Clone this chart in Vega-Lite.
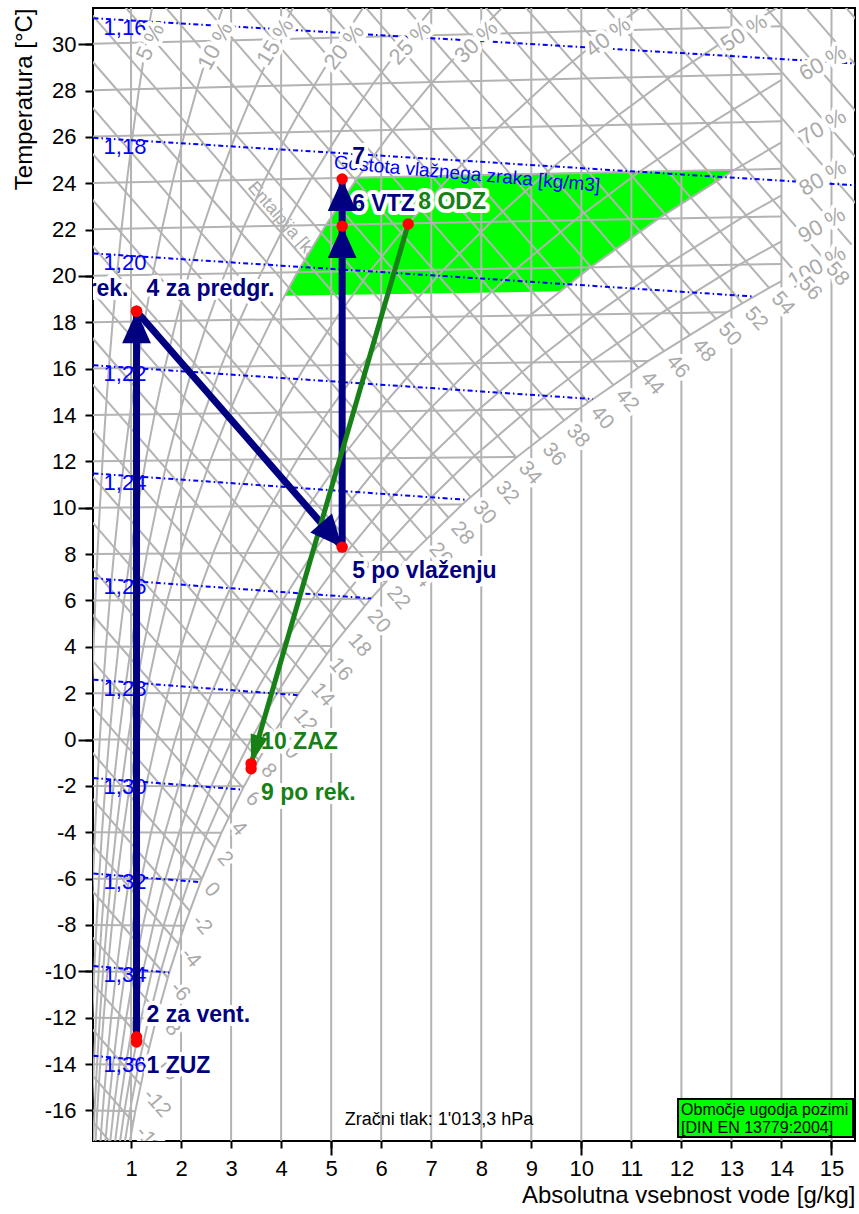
{
"$schema": "https://vega.github.io/schema/vega-lite/v6.json",
"width": 762, "height": 1133,
"autosize": {"type": "none"},
"padding": {"left": 93, "top": 8, "right": 4, "bottom": 73},
"config": {"view": {"stroke": "#000000", "strokeWidth": 2}, "font": "Liberation Sans"},
"datasets": {
"iso": [
{"x":0,"y":-16,"x2":1.086,"y2":-16.032},{"x":0,"y":-14,"x2":1.281,"y2":-14.033},{"x":0,"y":-12,"x2":1.506,"y2":-12.033},
{"x":0,"y":-10,"x2":1.767,"y2":-10.033},{"x":0,"y":-8,"x2":2.067,"y2":-8.031},{"x":0,"y":-6,"x2":2.412,"y2":-6.027},
{"x":0,"y":-4,"x2":2.807,"y2":-4.021},{"x":0,"y":-2,"x2":3.259,"y2":-2.012},{"x":0,"y":0,"x2":3.775,"y2":0},
{"x":0,"y":2,"x2":4.362,"y2":2.016},{"x":0,"y":4,"x2":5.03,"y2":4.037},{"x":0,"y":6,"x2":5.789,"y2":6.064},
{"x":0,"y":8,"x2":6.647,"y2":8.098},{"x":0,"y":10,"x2":7.618,"y2":10.141},{"x":0,"y":12,"x2":8.714,"y2":12.193},
{"x":0,"y":14,"x2":9.949,"y2":14.258},{"x":0,"y":16,"x2":11.34,"y2":16.335},{"x":0,"y":18,"x2":12.902,"y2":18.429},
{"x":0,"y":20,"x2":14,"y2":20.518},{"x":0,"y":22,"x2":14,"y2":22.569},{"x":0,"y":24,"x2":14,"y2":24.621},
{"x":0,"y":26,"x2":14,"y2":26.673},{"x":0,"y":28,"x2":14,"y2":28.725},{"x":0,"y":30,"x2":14,"y2":30.777}
],
"hl": [
{"h":-16,"x":0,"y":-15.905,"x2":0.93,"y2":-18.22},
{"h":-14,"lab":"-14","x":0,"y":-13.917,"x2":1.045,"y2":-16.516},
{"h":-12,"lab":"-12","x":0,"y":-11.928,"x2":1.196,"y2":-14.902},
{"h":-10,"lab":"-10","x":0,"y":-9.94,"x2":1.361,"y2":-13.323},
{"h":-8,"lab":"-8","x":0,"y":-7.952,"x2":1.539,"y2":-11.779},
{"h":-6,"lab":"-6","x":0,"y":-5.964,"x2":1.735,"y2":-10.277},
{"h":-4,"lab":"-4","x":0,"y":-3.976,"x2":1.949,"y2":-8.82},
{"h":-2,"lab":"-2","x":0,"y":-1.988,"x2":2.176,"y2":-7.398},
{"h":0,"lab":"0","x":0,"y":0,"x2":2.416,"y2":-6.006},
{"h":2,"lab":"2","x":0,"y":1.988,"x2":2.679,"y2":-4.672},
{"h":4,"lab":"4","x":0,"y":3.976,"x2":2.954,"y2":-3.367},
{"h":6,"lab":"6","x":0,"y":5.964,"x2":3.241,"y2":-2.092},
{"h":8,"lab":"8","x":0,"y":7.952,"x2":3.551,"y2":-0.875},
{"h":10,"lab":"10","x":0,"y":9.94,"x2":3.869,"y2":0.322},
{"h":12,"lab":"12","x":0,"y":11.928,"x2":4.205,"y2":1.475},
{"h":14,"lab":"14","x":0,"y":13.917,"x2":4.554,"y2":2.595},
{"h":16,"lab":"16","x":0,"y":15.905,"x2":4.915,"y2":3.687},
{"h":18,"lab":"18","x":0,"y":17.893,"x2":5.292,"y2":4.736},
{"h":20,"lab":"20","x":0,"y":19.881,"x2":5.678,"y2":5.766},
{"h":22,"lab":"22","x":0,"y":21.869,"x2":6.07,"y2":6.778},
{"h":24,"lab":"24","x":0,"y":23.857,"x2":6.489,"y2":7.724},
{"h":26,"lab":"26","x":0,"y":25.845,"x2":6.913,"y2":8.658},
{"h":28,"lab":"28","x":0,"y":27.833,"x2":7.346,"y2":9.569},
{"h":30,"lab":"30","x":0,"y":29.821,"x2":7.788,"y2":10.459},
{"h":32,"lab":"32","x":0,"y":31.809,"x2":8.244,"y2":11.313},
{"h":34,"lab":"34","x":0,"y":33.797,"x2":8.7,"y2":12.167},
{"h":36,"lab":"36","x":0,"y":35.785,"x2":9.178,"y2":12.968},
{"h":38,"lab":"38","x":0,"y":37.773,"x2":9.656,"y2":13.767},
{"h":40,"lab":"40","x":0,"y":39.761,"x2":10.143,"y2":14.546},
{"h":42,"lab":"42","x":0,"y":41.75,"x2":10.642,"y2":15.293},
{"h":44,"lab":"44","x":0,"y":43.738,"x2":11.141,"y2":16.039},
{"h":46,"lab":"46","x":0,"y":45.726,"x2":11.653,"y2":16.756},
{"h":48,"lab":"48","x":0,"y":47.714,"x2":12.172,"y2":17.452},
{"h":50,"lab":"50","x":0,"y":49.702,"x2":12.692,"y2":18.148},
{"h":52,"lab":"52","x":0,"y":51.69,"x2":13.22,"y2":18.823},
{"h":54,"lab":"54","x":0,"y":53.678,"x2":13.754,"y2":19.484},
{"h":56,"lab":"56","x":0,"y":55.666,"x2":14.298,"y2":20.121},
{"h":58,"lab":"58","x":0,"y":57.654,"x2":14.845,"y2":20.747},
{"h":60,"x":0,"y":59.642,"x2":15.402,"y2":21.352},
{"h":62,"x":0,"y":61.63,"x2":15.959,"y2":21.956},
{"h":64,"x":0,"y":63.618,"x2":16.515,"y2":22.56},
{"h":66,"x":0,"y":65.606,"x2":17.1,"y2":23.094},
{"h":68,"x":0,"y":67.594,"x2":17.6,"y2":23.839},
{"h":70,"x":0,"y":69.583,"x2":18.1,"y2":24.584}
],
"rh": [
{"phi":5,"x":0.188,"y":0},{"phi":5,"x":0.217,"y":2.0},{"phi":5,"x":0.25,"y":4.0},{"phi":5,"x":0.287,"y":6.002},{"phi":5,"x":0.329,"y":8.005},{"phi":5,"x":0.377,"y":10.007},{"phi":5,"x":0.43,"y":12.01},{"phi":5,"x":0.49,"y":14.013},{"phi":5,"x":0.557,"y":16.016},{"phi":5,"x":0.633,"y":18.021},{"phi":5,"x":0.717,"y":20.027},{"phi":5,"x":0.811,"y":22.033},{"phi":5,"x":0.915,"y":24.041},{"phi":5,"x":1.031,"y":26.05},{"phi":5,"x":1.16,"y":28.06},{"phi":5,"x":1.302,"y":30.072},{"phi":5,"x":1.46,"y":32.086},
{"phi":10,"x":0.206,"y":-8.003},{"phi":10,"x":0.24,"y":-6.003},{"phi":10,"x":0.28,"y":-4.002},{"phi":10,"x":0.324,"y":-2.001},{"phi":10,"x":0.375,"y":0},{"phi":10,"x":0.434,"y":2.002},{"phi":10,"x":0.499,"y":4.004},{"phi":10,"x":0.574,"y":6.006},{"phi":10,"x":0.658,"y":8.01},{"phi":10,"x":0.753,"y":10.014},{"phi":10,"x":0.861,"y":12.019},{"phi":10,"x":0.981,"y":14.025},{"phi":10,"x":1.116,"y":16.033},{"phi":10,"x":1.267,"y":18.042},{"phi":10,"x":1.435,"y":20.053},{"phi":10,"x":1.623,"y":22.066},{"phi":10,"x":1.833,"y":24.081},{"phi":10,"x":2.065,"y":26.099},{"phi":10,"x":2.324,"y":28.12},{"phi":10,"x":2.61,"y":30.145},{"phi":10,"x":2.926,"y":32.173},
{"phi":15,"x":0.225,"y":-12.005},{"phi":15,"x":0.264,"y":-10.005},{"phi":15,"x":0.309,"y":-8.005},{"phi":15,"x":0.361,"y":-6.004},{"phi":15,"x":0.419,"y":-4.003},{"phi":15,"x":0.487,"y":-2.002},{"phi":15,"x":0.563,"y":0},{"phi":15,"x":0.65,"y":2.002},{"phi":15,"x":0.749,"y":4.006},{"phi":15,"x":0.862,"y":6.01},{"phi":15,"x":0.988,"y":8.015},{"phi":15,"x":1.131,"y":10.021},{"phi":15,"x":1.292,"y":12.029},{"phi":15,"x":1.472,"y":14.038},{"phi":15,"x":1.675,"y":16.05},{"phi":15,"x":1.902,"y":18.063},{"phi":15,"x":2.155,"y":20.08},{"phi":15,"x":2.438,"y":22.099},{"phi":15,"x":2.753,"y":24.122},{"phi":15,"x":3.103,"y":26.149},{"phi":15,"x":3.492,"y":28.181},{"phi":15,"x":3.923,"y":30.218},{"phi":15,"x":4.4,"y":32.26},
{"phi":20,"x":0.183,"y":-18.006},{"phi":20,"x":0.217,"y":-16.006},{"phi":20,"x":0.256,"y":-14.007},{"phi":20,"x":0.301,"y":-12.007},{"phi":20,"x":0.353,"y":-10.007},{"phi":20,"x":0.412,"y":-8.006},{"phi":20,"x":0.481,"y":-6.005},{"phi":20,"x":0.559,"y":-4.004},{"phi":20,"x":0.649,"y":-2.002},{"phi":20,"x":0.751,"y":0},{"phi":20,"x":0.868,"y":2.003},{"phi":20,"x":1.0,"y":4.007},{"phi":20,"x":1.149,"y":6.013},{"phi":20,"x":1.318,"y":8.019},{"phi":20,"x":1.509,"y":10.028},{"phi":20,"x":1.724,"y":12.038},{"phi":20,"x":1.965,"y":14.051},{"phi":20,"x":2.235,"y":16.066},{"phi":20,"x":2.538,"y":18.084},{"phi":20,"x":2.877,"y":20.106},{"phi":20,"x":3.255,"y":22.132},{"phi":20,"x":3.676,"y":24.163},{"phi":20,"x":4.144,"y":26.199},{"phi":20,"x":4.665,"y":28.241},{"phi":20,"x":5.242,"y":30.291},{"phi":20,"x":5.881,"y":32.348},
{"phi":25,"x":0.229,"y":-18.008},{"phi":25,"x":0.271,"y":-16.008},{"phi":25,"x":0.32,"y":-14.008},{"phi":25,"x":0.376,"y":-12.008},{"phi":25,"x":0.441,"y":-10.008},{"phi":25,"x":0.515,"y":-8.008},{"phi":25,"x":0.601,"y":-6.007},{"phi":25,"x":0.699,"y":-4.005},{"phi":25,"x":0.812,"y":-2.003},{"phi":25,"x":0.939,"y":0},{"phi":25,"x":1.085,"y":2.004},{"phi":25,"x":1.25,"y":4.009},{"phi":25,"x":1.437,"y":6.016},{"phi":25,"x":1.649,"y":8.024},{"phi":25,"x":1.887,"y":10.035},{"phi":25,"x":2.156,"y":12.048},{"phi":25,"x":2.458,"y":14.064},{"phi":25,"x":2.797,"y":16.083},{"phi":25,"x":3.176,"y":18.106},{"phi":25,"x":3.6,"y":20.133},{"phi":25,"x":4.074,"y":22.166},{"phi":25,"x":4.602,"y":24.204},{"phi":25,"x":5.189,"y":26.249},{"phi":25,"x":5.842,"y":28.302},{"phi":25,"x":6.566,"y":30.364},{"phi":25,"x":7.368,"y":32.436},
{"phi":30,"x":0.275,"y":-18.009},{"phi":30,"x":0.325,"y":-16.01},{"phi":30,"x":0.384,"y":-14.01},{"phi":30,"x":0.451,"y":-12.01},{"phi":30,"x":0.529,"y":-10.01},{"phi":30,"x":0.619,"y":-8.009},{"phi":30,"x":0.722,"y":-6.008},{"phi":30,"x":0.839,"y":-4.006},{"phi":30,"x":0.974,"y":-2.004},{"phi":30,"x":1.128,"y":0},{"phi":30,"x":1.302,"y":2.005},{"phi":30,"x":1.501,"y":4.011},{"phi":30,"x":1.726,"y":6.019},{"phi":30,"x":1.979,"y":8.029},{"phi":30,"x":2.266,"y":10.042},{"phi":30,"x":2.589,"y":12.057},{"phi":30,"x":2.952,"y":14.076},{"phi":30,"x":3.359,"y":16.099},{"phi":30,"x":3.815,"y":18.127},{"phi":30,"x":4.325,"y":20.16},{"phi":30,"x":4.895,"y":22.199},{"phi":30,"x":5.53,"y":24.245},{"phi":30,"x":6.237,"y":26.3},{"phi":30,"x":7.023,"y":28.364},{"phi":30,"x":7.896,"y":30.438},{"phi":30,"x":8.863,"y":32.524},
{"phi":40,"x":0.367,"y":-18.012},{"phi":40,"x":0.434,"y":-16.013},{"phi":40,"x":0.512,"y":-14.013},{"phi":40,"x":0.602,"y":-12.013},{"phi":40,"x":0.706,"y":-10.013},{"phi":40,"x":0.825,"y":-8.012},{"phi":40,"x":0.963,"y":-6.011},{"phi":40,"x":1.12,"y":-4.008},{"phi":40,"x":1.299,"y":-2.005},{"phi":40,"x":1.504,"y":0},{"phi":40,"x":1.738,"y":2.006},{"phi":40,"x":2.002,"y":4.015},{"phi":40,"x":2.303,"y":6.026},{"phi":40,"x":2.642,"y":8.039},{"phi":40,"x":3.025,"y":10.056},{"phi":40,"x":3.457,"y":12.077},{"phi":40,"x":3.942,"y":14.102},{"phi":40,"x":4.487,"y":16.133},{"phi":40,"x":5.097,"y":18.17},{"phi":40,"x":5.781,"y":20.214},{"phi":40,"x":6.544,"y":22.266},{"phi":40,"x":7.396,"y":24.328},{"phi":40,"x":8.344,"y":26.401},{"phi":40,"x":9.4,"y":28.487},{"phi":40,"x":10.572,"y":30.586},{"phi":40,"x":11.873,"y":32.703},
{"phi":50,"x":0.459,"y":-18.015},{"phi":50,"x":0.543,"y":-16.016},{"phi":50,"x":0.64,"y":-14.017},{"phi":50,"x":0.752,"y":-12.017},{"phi":50,"x":0.882,"y":-10.016},{"phi":50,"x":1.032,"y":-8.015},{"phi":50,"x":1.204,"y":-6.013},{"phi":50,"x":1.4,"y":-4.01},{"phi":50,"x":1.625,"y":-2.006},{"phi":50,"x":1.882,"y":0},{"phi":50,"x":2.174,"y":2.008},{"phi":50,"x":2.505,"y":4.019},{"phi":50,"x":2.881,"y":6.032},{"phi":50,"x":3.306,"y":8.049},{"phi":50,"x":3.786,"y":10.07},{"phi":50,"x":4.327,"y":12.096},{"phi":50,"x":4.935,"y":14.128},{"phi":50,"x":5.619,"y":16.166},{"phi":50,"x":6.385,"y":18.212},{"phi":50,"x":7.243,"y":20.268},{"phi":50,"x":8.202,"y":22.334},{"phi":50,"x":9.272,"y":24.411},{"phi":50,"x":10.465,"y":26.503},{"phi":50,"x":11.794,"y":28.611},{"phi":50,"x":13.272,"y":30.736},{"phi":50,"x":14.913,"y":32.882},
{"phi":60,"x":0.551,"y":-18.018},{"phi":60,"x":0.651,"y":-16.019},{"phi":60,"x":0.768,"y":-14.02},{"phi":60,"x":0.903,"y":-12.02},{"phi":60,"x":1.059,"y":-10.02},{"phi":60,"x":1.239,"y":-8.018},{"phi":60,"x":1.445,"y":-6.016},{"phi":60,"x":1.681,"y":-4.012},{"phi":60,"x":1.951,"y":-2.007},{"phi":60,"x":2.259,"y":0},{"phi":60,"x":2.61,"y":2.01},{"phi":60,"x":3.008,"y":4.022},{"phi":60,"x":3.461,"y":6.038},{"phi":60,"x":3.971,"y":8.059},{"phi":60,"x":4.549,"y":10.084},{"phi":60,"x":5.199,"y":12.115},{"phi":60,"x":5.932,"y":14.154},{"phi":60,"x":6.754,"y":16.2},{"phi":60,"x":7.677,"y":18.256},{"phi":60,"x":8.712,"y":20.322},{"phi":60,"x":9.868,"y":22.401},{"phi":60,"x":11.16,"y":24.495},{"phi":60,"x":12.601,"y":26.606},{"phi":60,"x":14,"y":28.46},
{"phi":70,"x":0.643,"y":-18.021},{"phi":70,"x":0.76,"y":-16.022},{"phi":70,"x":0.896,"y":-14.023},{"phi":70,"x":1.054,"y":-12.023},{"phi":70,"x":1.236,"y":-10.023},{"phi":70,"x":1.445,"y":-8.021},{"phi":70,"x":1.686,"y":-6.019},{"phi":70,"x":1.962,"y":-4.015},{"phi":70,"x":2.278,"y":-2.008},{"phi":70,"x":2.637,"y":0},{"phi":70,"x":3.047,"y":2.011},{"phi":70,"x":3.513,"y":4.026},{"phi":70,"x":4.041,"y":6.045},{"phi":70,"x":4.638,"y":8.069},{"phi":70,"x":5.313,"y":10.098},{"phi":70,"x":6.074,"y":12.135},{"phi":70,"x":6.931,"y":14.179},{"phi":70,"x":7.894,"y":16.234},{"phi":70,"x":8.976,"y":18.299},{"phi":70,"x":10.187,"y":20.377},{"phi":70,"x":11.543,"y":22.47},{"phi":70,"x":13.059,"y":24.58},{"phi":70,"x":14,"y":25.762},
{"phi":80,"x":0.735,"y":-18.024},{"phi":80,"x":0.868,"y":-16.026},{"phi":80,"x":1.024,"y":-14.026},{"phi":80,"x":1.204,"y":-12.027},{"phi":80,"x":1.413,"y":-10.026},{"phi":80,"x":1.652,"y":-8.024},{"phi":80,"x":1.928,"y":-6.021},{"phi":80,"x":2.244,"y":-4.017},{"phi":80,"x":2.604,"y":-2.01},{"phi":80,"x":3.016,"y":0},{"phi":80,"x":3.485,"y":2.013},{"phi":80,"x":4.018,"y":4.03},{"phi":80,"x":4.623,"y":6.051},{"phi":80,"x":5.306,"y":8.078},{"phi":80,"x":6.079,"y":10.112},{"phi":80,"x":6.952,"y":12.154},{"phi":80,"x":7.934,"y":14.205},{"phi":80,"x":9.039,"y":16.267},{"phi":80,"x":10.279,"y":18.342},{"phi":80,"x":11.67,"y":20.432},{"phi":80,"x":13.227,"y":22.538},{"phi":80,"x":14,"y":23.479},
{"phi":90,"x":0.826,"y":-18.028},{"phi":90,"x":0.977,"y":-16.029},{"phi":90,"x":1.152,"y":-14.03},{"phi":90,"x":1.355,"y":-12.03},{"phi":90,"x":1.59,"y":-10.029},{"phi":90,"x":1.86,"y":-8.028},{"phi":90,"x":2.17,"y":-6.024},{"phi":90,"x":2.525,"y":-4.019},{"phi":90,"x":2.931,"y":-2.011},{"phi":90,"x":3.395,"y":0},{"phi":90,"x":3.923,"y":2.015},{"phi":90,"x":4.524,"y":4.033},{"phi":90,"x":5.205,"y":6.058},{"phi":90,"x":5.976,"y":8.088},{"phi":90,"x":6.848,"y":10.127},{"phi":90,"x":7.832,"y":12.174},{"phi":90,"x":8.94,"y":14.231},{"phi":90,"x":10.187,"y":16.301},{"phi":90,"x":11.588,"y":18.386},{"phi":90,"x":13.159,"y":20.487},{"phi":90,"x":14,"y":21.497},
{"phi":100,"x":0.918,"y":-18.031},{"phi":100,"x":1.086,"y":-16.032},{"phi":100,"x":1.281,"y":-14.033},{"phi":100,"x":1.506,"y":-12.033},{"phi":100,"x":1.767,"y":-10.033},{"phi":100,"x":2.067,"y":-8.031},{"phi":100,"x":2.412,"y":-6.027},{"phi":100,"x":2.807,"y":-4.021},{"phi":100,"x":3.259,"y":-2.012},{"phi":100,"x":3.775,"y":0},{"phi":100,"x":4.362,"y":2.016},{"phi":100,"x":5.03,"y":4.037},{"phi":100,"x":5.789,"y":6.064},{"phi":100,"x":6.647,"y":8.098},{"phi":100,"x":7.618,"y":10.141},{"phi":100,"x":8.714,"y":12.193},{"phi":100,"x":9.949,"y":14.258},{"phi":100,"x":11.34,"y":16.335},{"phi":100,"x":12.902,"y":18.429},{"phi":100,"x":13.754,"y":19.483},{"phi":100,"x":14,"y":19.772}
],
"rho": [
{"rho":"1,16","x":0,"y":31.149},{"rho":"1,16","x":4,"y":30.639},{"rho":"1,16","x":8,"y":30.131},{"rho":"1,16","x":12,"y":29.614},{"rho":"1,16","x":15.5,"y":29.165},
{"rho":"1,18","x":0,"y":25.992},{"rho":"1,18","x":4,"y":25.456},{"rho":"1,18","x":8,"y":24.923},{"rho":"1,18","x":12,"y":24.379},{"rho":"1,18","x":15.5,"y":23.909},
{"rho":"1,20","x":0,"y":21.006},{"rho":"1,20","x":4,"y":20.445},{"rho":"1,20","x":8,"y":19.889},{"rho":"1,20","x":12,"y":19.32},{"rho":"1,20","x":13.45,"y":19.11},
{"rho":"1,22","x":0,"y":16.183},{"rho":"1,22","x":4,"y":15.599},{"rho":"1,22","x":8,"y":15.017},{"rho":"1,22","x":10.23,"y":14.69},
{"rho":"1,24","x":0,"y":11.517},{"rho":"1,24","x":4,"y":10.909},{"rho":"1,24","x":7.72,"y":10.34},
{"rho":"1,26","x":0,"y":6.998},{"rho":"1,26","x":4,"y":6.368},{"rho":"1,26","x":5.8,"y":6.09},
{"rho":"1,28","x":0,"y":2.621},{"rho":"1,28","x":4,"y":1.969},{"rho":"1,28","x":4.33,"y":1.91},
{"rho":"1,30","x":0,"y":-1.622},{"rho":"1,30","x":3.23,"y":-2.16},
{"rho":"1,32","x":0,"y":-5.736},{"rho":"1,32","x":2.39,"y":-6.15},
{"rho":"1,34","x":0,"y":-9.727},{"rho":"1,34","x":1.765,"y":-10.05},
{"rho":"1,36","x":0,"y":-13.601},{"rho":"1,36","x":1.3,"y":-13.84}
],
"rhlab": [
{"phi":5,"lab":"5 %","x":1.386,"y":30.094},{"phi":10,"lab":"10 %","x":2.684,"y":29.922},{"phi":15,"lab":"15 %","x":3.883,"y":30.094},
{"phi":20,"lab":"20 %","x":5.261,"y":29.879},{"phi":25,"lab":"25 %","x":6.579,"y":30.051},{"phi":30,"lab":"30 %","x":7.897,"y":30.094},
{"phi":40,"lab":"40 %","x":10.534,"y":30.31},{"phi":50,"lab":"50 %","x":13.251,"y":30.482},{"phi":60,"lab":"60 %","x":14.827,"y":29.188},
{"phi":70,"lab":"70 %","x":14.827,"y":26.426},{"phi":80,"lab":"80 %","x":14.827,"y":24.225},{"phi":90,"lab":"90 %","x":14.807,"y":22.197},
{"phi":100,"lab":"100 %","x":14.707,"y":20.384}
],
"poly": [
{"o":1,"x":4.063,"y":19.143},{"o":2,"x":4.325,"y":20.16},{"o":3,"x":4.895,"y":22.199},{"o":4,"x":5.53,"y":24.245},
{"o":5,"x":13.059,"y":24.58},{"o":6,"x":11.543,"y":22.47},{"o":7,"x":10.187,"y":20.377},{"o":8,"x":9.565,"y":19.336}
],
"xg": [
{"x":1,"y":-18,"y2":32},{"x":2,"y":-18,"y2":32},{"x":3,"y":-18,"y2":32},{"x":4,"y":-18,"y2":32},{"x":5,"y":-18,"y2":32},
{"x":6,"y":-18,"y2":32},{"x":7,"y":-18,"y2":32},{"x":8,"y":-18,"y2":32},{"x":9,"y":-18,"y2":32},{"x":10,"y":-18,"y2":32},
{"x":11,"y":-18,"y2":32},{"x":12,"y":-18,"y2":32},{"x":13,"y":-18,"y2":32},{"x":14,"y":-18,"y2":32},{"x":15,"y":-18,"y2":32}
],
"pts": [
{"id":"1","lab":"1 ZUZ","x":1.11,"y":-13.05,"zrak":"dovod"},
{"id":"2","lab":"2 za vent.","x":1.11,"y":-12.83,"zrak":"dovod"},
{"id":"3","lab":"3 po rek.","x":1.11,"y":18.48,"zrak":"dovod"},
{"id":"4","lab":"4 za predgr.","x":1.11,"y":18.48,"zrak":"dovod"},
{"id":"5","lab":"5 po vlaženju","x":5.22,"y":8.3,"zrak":"dovod"},
{"id":"6","lab":"6 VTZ","x":5.22,"y":22.15,"zrak":"dovod"},
{"id":"7","lab":"7","x":5.22,"y":24.18,"zrak":"dovod"},
{"id":"8","lab":"8 ODZ","x":6.54,"y":22.24,"zrak":"odvod"},
{"id":"9","lab":"9 po rek.","x":3.4,"y":-1.26,"zrak":"odvod"},
{"id":"10","lab":"10 ZAZ","x":3.4,"y":-1.04,"zrak":"odvod"}
],
"seg": [
{"x":1.11,"y":-12.83,"x2":1.11,"y2":18.48,"zrak":"dovod","smer":0},
{"x":1.11,"y":18.48,"x2":5.22,"y2":8.3,"zrak":"dovod","smer":138.9},
{"x":5.22,"y":8.3,"x2":5.22,"y2":22.15,"zrak":"dovod","smer":0},
{"x":5.22,"y":22.15,"x2":5.22,"y2":24.18,"zrak":"dovod","smer":0},
{"x":6.54,"y":22.24,"x2":3.4,"y2":-1.04,"zrak":"odvod","smer":196.2}
],
"notes": [
{"k":"ent","lab":"Entalpija [kJ/kg]","x":4.218,"y":21.896},
{"k":"gos","lab":"Gostota vlažnega zraka [kg/m3]","x":7.715,"y":24.399},
{"k":"tlak","lab":"Zračni tlak: 1'013,3 hPa","x":7.156,"y":-16.412},
{"k":"leg","lab":"Območje ugodja pozimi","x":11.993,"y":-15.98},
{"k":"leg","lab":"[DIN EN 13779:2004]","x":11.993,"y":-16.78}
],
"box": [{"x":11.933,"x2":15.431,"y":-15.506,"y2":-17.146}]
},
"encoding": {
"x": {"field":"x","type":"quantitative","scale":{"domain":[0.24,15.47],"nice":false,"zero":false},"axis":null},
"y": {"field":"y","type":"quantitative","scale":{"domain":[-17.32,31.56],"nice":false,"zero":false},"axis":null}
},
"resolve": {"axis": {"x":"independent","y":"independent"}, "scale": {"angle": "independent"}},
"layer": [
{"data":{"name":"notes"},"transform":[{"filter":"datum.k == 'ent'"}],
 "mark":{"type":"text","angle":49,"fontSize":18,"color":"#aaaaaa","font":"Liberation Sans"},
 "encoding":{"text":{"field":"lab"}}},
{"data":{"name":"poly"},"mark":{"type":"line","fill":"#00ff00","stroke":"#00ff00","strokeWidth":1,"clip":true},
 "encoding":{"order":{"field":"o","type":"quantitative"}}},
{"data":{"name":"xg"},"mark":{"type":"rule","color":"#b3b3b3","strokeWidth":2,"clip":true},
 "encoding":{"y2":{"field":"y2"}}},
{"data":{"name":"iso"},"mark":{"type":"rule","color":"#b3b3b3","strokeWidth":2,"clip":true},
 "encoding":{
  "x":{"field":"x","type":"quantitative","scale":{"domain":[0.24,15.47],"nice":false,"zero":false},
   "axis":{"orient":"bottom","values":[1,2,3,4,5,6,7,8,9,10,11,12,13,14,15],"format":"d","tickSize":7,"tickWidth":2,"tickColor":"#000000","domain":false,"grid":false,
   "labelFont":"Liberation Sans","labelFontSize":22,"labelColor":"#000000","labelPadding":10,"labelFlush":false,"labelOverlap":false,
   "title":"Absolutna vsebnost vode [g/kg]","titleFont":"Liberation Sans","titleFontSize":24,"titleFontWeight":"normal","titleColor":"#000000","titleAnchor":"end","titlePadding":4}},
  "y":{"field":"y","type":"quantitative","scale":{"domain":[-17.32,31.56],"nice":false,"zero":false},
   "axis":{"orient":"left","values":[-16,-14,-12,-10,-8,-6,-4,-2,0,2,4,6,8,10,12,14,16,18,20,22,24,26,28,30],"format":"d","labelExpr":"replace(datum.label, '\u2212', '-')","tickSize":8,"tickWidth":2,"tickColor":"#000000","domain":false,"grid":false,
   "labelFont":"Liberation Sans","labelFontSize":22,"labelColor":"#000000","labelPadding":9,"labelFlush":false,"labelOverlap":false,
   "title":"Temperatura [°C]","titleFont":"Liberation Sans","titleFontSize":24,"titleFontWeight":"normal","titleColor":"#000000","titleAnchor":"end","titlePadding":8}},
  "x2":{"field":"x2"},"y2":{"field":"y2"}}},
{"data":{"name":"hl"},"mark":{"type":"rule","color":"#b3b3b3","strokeWidth":2,"clip":true},
 "encoding":{
  "x":{"field":"x","type":"quantitative","scale":{"domain":[0.24,15.47],"nice":false,"zero":false},
   "axis":{"orient":"bottom","values":[5,10,15],"tickSize":14,"tickWidth":2,"tickColor":"#000000","labels":false,"domain":false,"grid":false,"title":null}},
  "y":{"field":"y","type":"quantitative","scale":{"domain":[-17.32,31.56],"nice":false,"zero":false},
   "axis":{"orient":"left","values":[-10,0,10,20,30],"tickSize":15,"tickWidth":2,"tickColor":"#000000","labels":false,"domain":false,"grid":false,"title":null}},
  "x2":{"field":"x2"},"y2":{"field":"y2"}}},
{"data":{"name":"rh"},"mark":{"type":"line","color":"#b3b3b3","strokeWidth":2,"clip":true},
 "encoding":{"detail":{"field":"phi","type":"nominal"}}},
{"data":{"name":"rho"},"mark":{"type":"line","color":"#0000ff","strokeWidth":2,"strokeDash":[5,3,1.5,3],"clip":true},
 "encoding":{"detail":{"field":"rho","type":"nominal"}}},
{"data":{"name":"rho"},"transform":[{"filter":"datum.x == 0"}],
 "mark":{"type":"text","align":"center","baseline":"middle","dx":44,"dy":10,"fontSize":22,"color":"#0000ff","font":"Liberation Sans"},
 "encoding":{"text":{"field":"rho"}}},
{"data":{"name":"notes"},"transform":[{"filter":"datum.k == 'gos'"}],
 "mark":{"type":"text","angle":5,"fontSize":19,"color":"#0000ff","align":"center","baseline":"middle","font":"Liberation Sans"},
 "encoding":{"text":{"field":"lab"}}},
{"data":{"name":"rhlab"},
 "mark":{"type":"text","align":"center","baseline":"middle","fontSize":22,"fill":"#ffffff","stroke":"#ffffff","strokeWidth":8,"strokeJoin":"round","font":"Liberation Sans"},
 "encoding":{"text":{"field":"lab"},"angle":{"field":"phi","type":"quantitative","scale":{"domain":[5,10,15,20,25,30,40,50,60,100],"range":[-65,-62,-58,-52,-47,-44,-38,-33,-30,-30]}}}},
{"data":{"name":"rhlab"},
 "mark":{"type":"text","align":"center","baseline":"middle","fontSize":22,"color":"#aaaaaa","font":"Liberation Sans"},
 "encoding":{"text":{"field":"lab"},"angle":{"field":"phi","type":"quantitative","scale":{"domain":[5,10,15,20,25,30,40,50,60,100],"range":[-65,-62,-58,-52,-47,-44,-38,-33,-30,-30]}}}},
{"data":{"name":"hl"},"transform":[{"filter":"isValid(datum.lab)"}],
 "mark":{"type":"text","align":"left","baseline":"middle","angle":49,"dx":9,"fontSize":21,"fill":"#ffffff","stroke":"#ffffff","strokeWidth":7,"strokeJoin":"round","clip":true,"font":"Liberation Sans"},
 "encoding":{"x":{"field":"x2","type":"quantitative","scale":{"domain":[0.24,15.47],"nice":false,"zero":false},"axis":null},
  "y":{"field":"y2","type":"quantitative","scale":{"domain":[-17.32,31.56],"nice":false,"zero":false},"axis":null},
  "text":{"field":"lab"}}},
{"data":{"name":"hl"},"transform":[{"filter":"isValid(datum.lab)"}],
 "mark":{"type":"text","align":"left","baseline":"middle","angle":49,"dx":9,"fontSize":21,"color":"#aaaaaa","clip":true,"font":"Liberation Sans"},
 "encoding":{"x":{"field":"x2","type":"quantitative","scale":{"domain":[0.24,15.47],"nice":false,"zero":false},"axis":null},
  "y":{"field":"y2","type":"quantitative","scale":{"domain":[-17.32,31.56],"nice":false,"zero":false},"axis":null},
  "text":{"field":"lab"}}},
{"data":{"name":"pts"},"transform":[{"filter":{"field":"id","oneOf":["2","4","6","7","8","10"]}}],
 "mark":{"type":"text","align":"left","baseline":"middle","dx":10,"dy":-22,"fontSize":23,"fontWeight":"bold","fill":"#ffffff","stroke":"#ffffff","strokeWidth":8,"strokeJoin":"round","font":"Liberation Sans"},
 "encoding":{"text":{"field":"lab"}}},
{"data":{"name":"pts"},"transform":[{"filter":{"field":"id","oneOf":["2","4","6","7","8","10"]}}],
 "mark":{"type":"text","align":"left","baseline":"middle","dx":10,"dy":-22,"fontSize":23,"fontWeight":"bold","font":"Liberation Sans"},
 "encoding":{"text":{"field":"lab"},"color":{"field":"zrak","type":"nominal","scale":{"domain":["dovod","odvod"],"range":["#000080","#178017"]},"legend":null}}},
{"data":{"name":"pts"},"transform":[{"filter":{"field":"id","oneOf":["1","5","9"]}}],
 "mark":{"type":"text","align":"left","baseline":"middle","dx":10,"dy":24,"fontSize":23,"fontWeight":"bold","fill":"#ffffff","stroke":"#ffffff","strokeWidth":8,"strokeJoin":"round","font":"Liberation Sans"},
 "encoding":{"text":{"field":"lab"}}},
{"data":{"name":"pts"},"transform":[{"filter":{"field":"id","oneOf":["1","5","9"]}}],
 "mark":{"type":"text","align":"left","baseline":"middle","dx":10,"dy":24,"fontSize":23,"fontWeight":"bold","font":"Liberation Sans"},
 "encoding":{"text":{"field":"lab"},"color":{"field":"zrak","type":"nominal","scale":{"domain":["dovod","odvod"],"range":["#000080","#178017"]},"legend":null}}},
{"data":{"name":"pts"},"transform":[{"filter":{"field":"id","oneOf":["3"]}}],
 "mark":{"type":"text","align":"right","baseline":"middle","dx":-8,"dy":-22,"fontSize":23,"fontWeight":"bold","fill":"#ffffff","stroke":"#ffffff","strokeWidth":8,"strokeJoin":"round","clip":true,"font":"Liberation Sans"},
 "encoding":{"text":{"field":"lab"}}},
{"data":{"name":"pts"},"transform":[{"filter":{"field":"id","oneOf":["3"]}}],
 "mark":{"type":"text","align":"right","baseline":"middle","dx":-8,"dy":-22,"fontSize":23,"fontWeight":"bold","color":"#000080","clip":true,"font":"Liberation Sans"},
 "encoding":{"text":{"field":"lab"}}},
{"data":{"name":"seg"},"transform":[{"filter":"datum.zrak == 'dovod'"}],
 "mark":{"type":"rule","color":"#000080","strokeWidth":7},
 "encoding":{"x2":{"field":"x2"},"y2":{"field":"y2"}}},
{"data":{"name":"seg"},"transform":[{"filter":"datum.zrak == 'odvod'"}],
 "mark":{"type":"rule","color":"#178017","strokeWidth":5},
 "encoding":{"x2":{"field":"x2"},"y2":{"field":"y2"}}},
{"data":{"name":"seg"},"transform":[{"filter":"datum.zrak == 'dovod'"}],
 "mark":{"type":"point","shape":"M0,0L-0.9,2L0.9,2Z","filled":true,"color":"#000080","opacity":1,"size":1024},
 "encoding":{"x":{"field":"x2","type":"quantitative","scale":{"domain":[0.24,15.47],"nice":false,"zero":false},"axis":null},
  "y":{"field":"y2","type":"quantitative","scale":{"domain":[-17.32,31.56],"nice":false,"zero":false},"axis":null},
  "angle":{"field":"smer","type":"quantitative","scale":{"domain":[0,360],"range":[0,360],"zero":false,"nice":false}}}},
{"data":{"name":"seg"},"transform":[{"filter":"datum.zrak == 'odvod'"}],
 "mark":{"type":"point","shape":"M0,0L-0.55,1.8L0.55,1.8Z","filled":true,"color":"#178017","opacity":1,"size":1024},
 "encoding":{"x":{"field":"x2","type":"quantitative","scale":{"domain":[0.24,15.47],"nice":false,"zero":false},"axis":null},
  "y":{"field":"y2","type":"quantitative","scale":{"domain":[-17.32,31.56],"nice":false,"zero":false},"axis":null},
  "angle":{"field":"smer","type":"quantitative","scale":{"domain":[0,360],"range":[0,360],"zero":false,"nice":false}}}},
{"data":{"name":"pts"},"mark":{"type":"point","shape":"circle","filled":true,"color":"#ff0000","opacity":1,"size":130}},
{"data":{"name":"notes"},"transform":[{"filter":"datum.k == 'tlak'"}],
 "mark":{"type":"text","align":"center","baseline":"middle","fontSize":18,"color":"#000000","font":"Liberation Sans"},
 "encoding":{"text":{"field":"lab"}}},
{"data":{"name":"box"},"mark":{"type":"rect","fill":"#00ff00","stroke":"#000000","strokeWidth":2},
 "encoding":{"x2":{"field":"x2"},"y2":{"field":"y2"}}},
{"data":{"name":"notes"},"transform":[{"filter":"datum.k == 'leg'"}],
 "mark":{"type":"text","align":"left","baseline":"middle","fontSize":16,"color":"#000000","font":"Liberation Sans"},
 "encoding":{"text":{"field":"lab"}}}
]
}
